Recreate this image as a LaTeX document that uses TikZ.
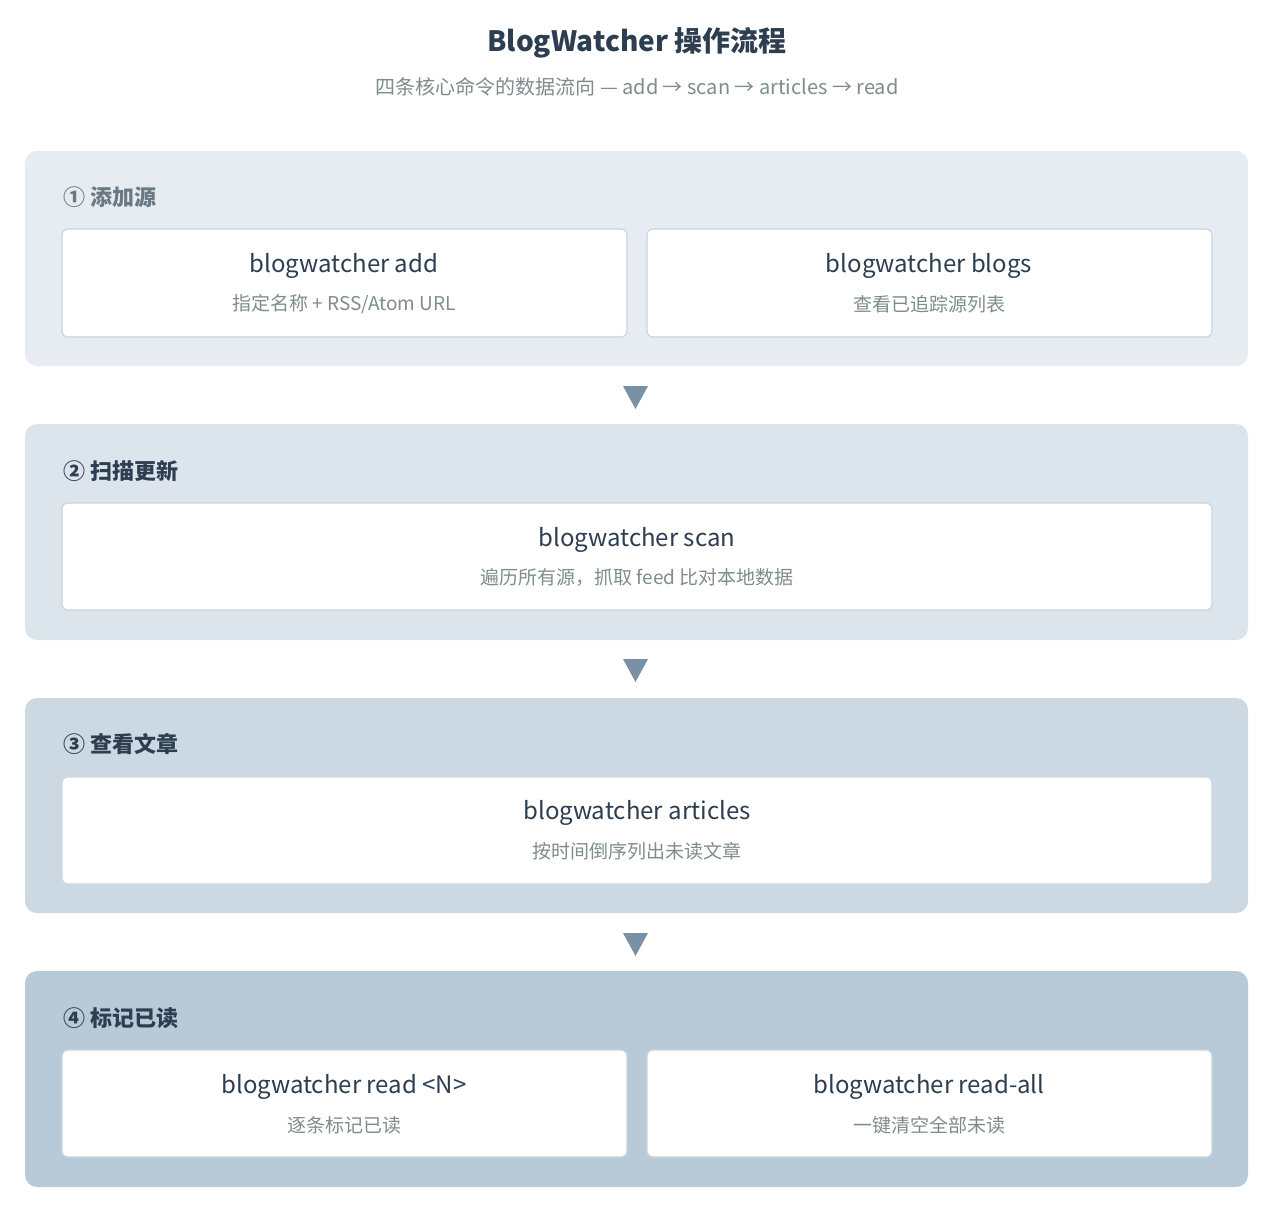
\documentclass[tikz,border=0pt]{standalone}
\usepackage{fontspec}
\setmainfont{Noto Sans CJK SC}
\newfontfamily\cjkb[BoldFont={* Bold}]{Noto Sans CJK SC}
\begin{document}
\begin{tikzpicture}[x=1pt,y=-1pt,
 panel/.style={rounded corners=12pt},
 box/.style={draw=#1,fill=white,rounded corners=6pt,line width=1.2pt},
 hd/.style={anchor=west,font=\fontsize{22}{26}\selectfont\bfseries,text=c2c},
 bt/.style={font=\fontsize{24}{28}\selectfont,text=c2c},
 bs/.style={font=\fontsize{19}{22}\selectfont,text=cgray},
 tri/.style={fill=ctri}]
\definecolor{c2c}{HTML}{2C3E50}\definecolor{cgray}{HTML}{7F8C8D}
\definecolor{ctri}{HTML}{7A90A4}
\definecolor{p1}{HTML}{E6ECF1}\definecolor{p2}{HTML}{DCE4EC}
\definecolor{p3}{HTML}{CCD8E2}\definecolor{p4}{HTML}{B8CAD8}
\definecolor{bd}{HTML}{C9D5DF}
\useasboundingbox[fill=white] (0,0) rectangle (1278,1210);
\node[font=\fontsize{28}{32}\selectfont\bfseries,text=c2c] (title) at (637,43) {BlogWatcher 操作流程};
\node[font=\fontsize{20}{24}\selectfont,text=cgray] (sub) at (637,87) {四条核心命令的数据流向 — add → scan → articles → read};
\fill[p1,panel] (25,151) rectangle (1248,366);
\fill[p2,panel] (25,424) rectangle (1248,640);
\fill[p3,panel] (25,698) rectangle (1248,913);
\fill[p4,panel] (25,971) rectangle (1248,1187);
\node[hd,text=c2c!70] (h1) at (60,197) {① 添加源};
\node[hd] (h2) at (60,471) {② 扫描更新};
\node[hd] (h3) at (60,744) {③ 查看文章};
\node[hd] (h4) at (60,1018) {④ 标记已读};
\draw[box=bd] (62,229) rectangle (627,337);
\draw[box=bd] (647,229) rectangle (1212,337);
\draw[box=bd] (62,503) rectangle (1212,610);
\draw[box=p3] (62,777) rectangle (1212,884);
\draw[box=bd] (62,1050) rectangle (627,1157);
\draw[box=bd] (647,1050) rectangle (1212,1157);
\node[bt] (a1) at (344,266) {blogwatcher add};
\node[bs] (a2) at (344,304) {指定名称 + RSS/Atom URL};
\node[bt] (b1) at (929,266) {blogwatcher blogs};
\node[bs] (b2) at (929,304) {查看已追踪源列表};
\node[bt] (c1) at (637,540) {blogwatcher scan};
\node[bs] (c2) at (637,578) {遍历所有源，抓取 feed 比对本地数据};
\node[bt] (d1) at (637,813) {blogwatcher articles};
\node[bs] (d2) at (637,851) {按时间倒序列出未读文章};
\node[bt] (e1) at (344,1087) {blogwatcher read <N>};
\node[bs] (e2) at (344,1125) {逐条标记已读};
\node[bt] (f1) at (929,1087) {blogwatcher read-all};
\node[bs] (f2) at (929,1125) {一键清空全部未读};
\foreach \y in {386,659,933}{\fill[tri] (623,\y) -- (648,\y) -- (635.5,\y+23) -- cycle;}
\end{tikzpicture}
\end{document}
